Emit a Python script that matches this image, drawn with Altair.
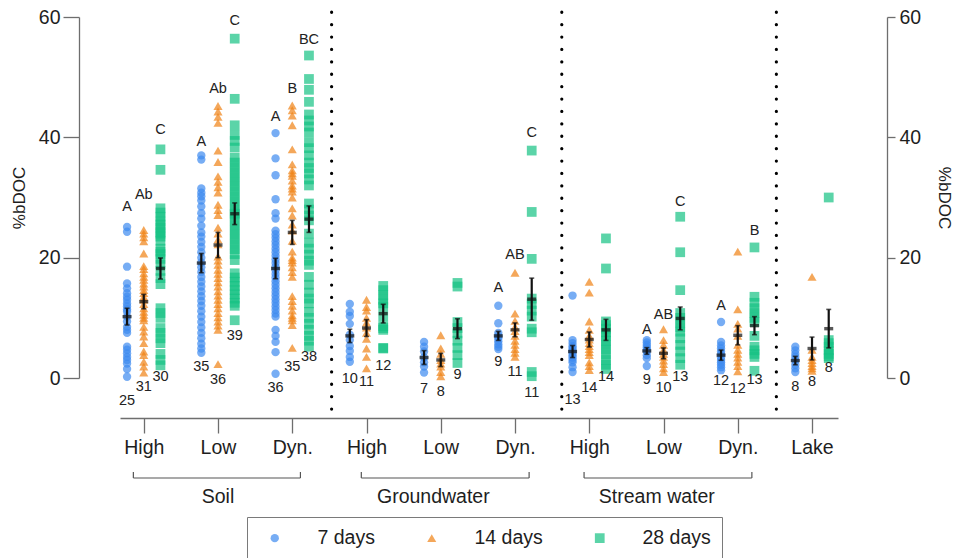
import json
import altair as alt
import pandas as pd

FONT = "Liberation Sans"

# ---------------- data ----------------
groups = ["High", "Low", "Dyn.", "High", "Low", "Dyn.", "High", "Low", "Dyn.", "Lake"]
series = ["7 days", "14 days", "28 days"]
colors = ["#3d8af0", "#f08214", "#16c283"]
shapes = ["circle", "triangle-up", "square"]
marker_sizes = [70, 95, 70]

# Soil
soil_high_7 = [25.1, 24.3, 18.5, 15.7, 14.9, 14.1, 13.5, 13.0, 12.4, 11.9, 11.4, 11.0, 10.2, 9.4, 8.5, 8.0, 7.5, 5.2, 4.7, 4.1, 3.5, 3.0, 2.4, 1.5, 0.2]
soil_high_14 = [24.6, 24.0, 23.4, 22.7, 20.7, 18.6, 18.1, 17.4, 16.8, 16.3, 15.7, 15.2, 14.6, 14.1, 13.5, 13.0, 12.3, 11.6, 11.0, 10.5, 10.0, 9.6, 8.5, 7.7, 6.9, 5.8, 4.4, 3.8, 2.7, 1.9, 0.9]
soil_high_28 = [38.0, 34.6, 28.2, 27.5, 26.8, 26.0, 25.5, 25.0, 24.3, 24.0, 23.5, 22.8, 21.5, 21.0, 20.6, 19.8, 18.9, 17.8, 16.6, 15.6, 11.6, 10.8, 10.0, 8.3, 7.5, 6.6, 5.8, 4.0, 3.0, 2.1]
soil_low_7 = [37.0, 36.3, 31.5, 30.8, 30.2, 29.5, 28.5, 27.4, 26.5, 25.3, 24.2, 23.5, 22.6, 21.8, 20.9, 20.0, 19.2, 18.4, 17.6, 16.8, 16.0, 15.2, 14.4, 13.6, 12.8, 12.0, 11.1, 10.2, 9.3, 8.4, 7.5, 6.6, 5.7, 4.9, 4.2]
soil_low_14 = [45.2, 44.3, 43.4, 42.4, 37.8, 35.9, 33.5, 32.6, 31.7, 30.8, 28.8, 27.9, 27.1, 25.0, 24.0, 23.0, 22.2, 20.2, 19.5, 18.8, 18.0, 17.3, 16.6, 15.9, 15.2, 14.4, 13.7, 13.0, 12.3, 11.6, 10.8, 10.1, 9.4, 8.7, 8.0, 2.3]
soil_low_28 = [56.4, 46.4, 42.0, 40.4, 39.4, 38.3, 36.6, 35.8, 35.0, 34.2, 33.4, 32.6, 31.8, 31.0, 30.2, 29.4, 28.6, 27.8, 27.3, 27.0, 26.2, 25.4, 24.6, 23.8, 23.0, 22.2, 21.4, 20.6, 19.6, 17.4, 16.7, 16.0, 15.3, 14.6, 13.9, 13.2, 12.5, 12.0, 9.6]
soil_dyn_7 = [40.7, 36.5, 33.7, 29.7, 27.4, 26.5, 24.5, 23.9, 23.3, 22.7, 22.1, 21.5, 20.9, 20.3, 19.7, 19.1, 18.5, 17.9, 17.3, 16.7, 16.1, 15.5, 14.9, 14.3, 13.7, 13.1, 12.5, 11.9, 11.3, 10.7, 10.2, 8.0, 7.0, 6.0, 4.3, 0.7]
soil_dyn_14 = [45.3, 44.5, 43.6, 42.0, 38.0, 35.5, 34.5, 34.0, 33.6, 32.8, 32.0, 31.5, 31.0, 30.0, 28.2, 27.0, 25.5, 24.5, 22.8, 21.0, 20.0, 19.6, 19.2, 18.4, 17.6, 16.8, 13.6, 12.8, 12.0, 11.2, 10.4, 10.0, 9.6, 8.8, 5.0]
soil_dyn_28 = [53.6, 49.7, 47.9, 45.9, 43.8, 42.8, 41.8, 40.8, 39.2, 38.2, 37.0, 35.8, 34.9, 34.0, 33.0, 32.0, 29.0, 28.0, 27.0, 26.2, 24.0, 22.5, 21.5, 20.5, 19.5, 18.8, 16.8, 15.5, 14.2, 13.2, 12.4, 11.0, 10.0, 9.0, 8.0, 7.0, 6.2, 5.2]
# Groundwater
gw_high_7 = [12.3, 11.0, 10.3, 9.0, 7.2, 6.3, 5.3, 4.5, 3.5, 2.7]
gw_high_14 = [13.0, 11.8, 11.2, 10.0, 9.2, 8.4, 7.5, 6.5, 4.9, 3.5, 1.6]
gw_high_28 = [15.3, 14.6, 13.8, 13.0, 12.4, 11.8, 10.2, 8.6, 8.3, 8.0, 5.0, 4.9]
gw_low_7 = [6.0, 5.2, 4.4, 3.4, 2.6, 1.9, 0.9]
gw_low_14 = [7.1, 4.9, 4.0, 3.0, 2.4, 1.9, 1.0, 0.3]
gw_low_28 = [15.8, 15.2, 9.3, 8.3, 7.4, 6.2, 5.0, 3.8, 2.5]
gw_dyn_7 = [12.0, 9.1, 7.5, 7.0, 6.6, 6.1, 5.6, 5.2, 4.8]
gw_dyn_14 = [17.5, 10.7, 9.5, 8.5, 7.8, 7.0, 6.2, 5.5, 4.8, 4.2, 3.5]
gw_dyn_28 = [37.8, 27.6, 19.8, 13.2, 12.3, 11.2, 10.2, 8.2, 7.6, 1.0, 0.3]
# Stream water
st_high_7 = [13.7, 6.3, 5.8, 5.3, 5.0, 4.6, 4.2, 3.8, 3.4, 3.0, 2.6, 1.8, 1.0]
st_high_14 = [16.0, 14.2, 9.4, 8.0, 7.0, 6.4, 5.8, 5.3, 4.8, 4.3, 3.8, 2.6, 2.0, 1.3]
st_high_28 = [23.2, 18.2, 9.4, 8.8, 8.2, 7.6, 7.0, 6.2, 5.5, 4.7, 3.9, 3.0, 2.2, 1.5]
st_low_7 = [6.3, 5.9, 5.5, 5.1, 4.7, 4.4, 3.8, 3.3, 2.0]
st_low_14 = [8.1, 6.3, 5.5, 4.7, 4.0, 3.5, 2.9, 2.3, 1.6, 1.0]
st_low_28 = [26.8, 20.9, 14.6, 10.8, 10.0, 9.2, 8.4, 7.7, 6.6, 5.5, 4.4, 3.3, 2.2]
st_dyn_7 = [9.3, 6.0, 5.4, 4.9, 4.4, 3.9, 3.4, 3.0, 2.6, 2.2, 1.8, 1.3]
st_dyn_14 = [21.0, 11.4, 9.0, 8.2, 7.0, 5.5, 4.7, 4.0, 3.4, 2.7, 2.0, 1.1]
st_dyn_28 = [21.7, 13.5, 12.5, 11.6, 10.8, 10.0, 9.3, 7.0, 5.2, 4.6, 4.0, 3.5, 1.2]
# Lake
lake_7 = [5.2, 4.6, 4.0, 3.5, 2.9, 2.2, 1.6, 1.0]
lake_14 = [16.8, 4.7, 3.5, 3.0, 2.5, 2.0, 1.6, 1.2]
lake_28 = [30.0, 6.3, 5.8, 5.2, 4.6, 4.0, 3.6, 3.3]

points_7 = [soil_high_7, soil_low_7, soil_dyn_7, gw_high_7, gw_low_7, gw_dyn_7, st_high_7, st_low_7, st_dyn_7, lake_7]
points_14 = [soil_high_14, soil_low_14, soil_dyn_14, gw_high_14, gw_low_14, gw_dyn_14, st_high_14, st_low_14, st_dyn_14, lake_14]
points_28 = [soil_high_28, soil_low_28, soil_dyn_28, gw_high_28, gw_low_28, gw_dyn_28, st_high_28, st_low_28, st_dyn_28, lake_28]

# means and standard errors
mean_7 = [10.2, 19.1, 18.2, 7.0, 3.4, 7.0, 4.4, 4.5, 3.8, 2.9]
se_7 = [1.4, 1.6, 1.7, 1.1, 1.15, 0.75, 1.0, 0.55, 0.85, 0.7]
mean_14 = [12.7, 22.1, 24.2, 8.3, 3.0, 8.0, 6.4, 4.1, 7.1, 4.9]
se_14 = [1.2, 2.1, 2.0, 1.4, 1.1, 1.15, 1.25, 0.9, 1.6, 1.9]
mean_28 = [18.2, 27.3, 26.4, 10.7, 8.2, 13.1, 8.0, 9.9, 8.7, 8.2]
se_28 = [1.75, 1.8, 2.2, 1.55, 1.65, 3.5, 1.75, 1.9, 1.5, 3.2]

# significance letters and the value at which each is written
letters_7 = ["A", "A", "A", "", "", "A", "", "A", "A", ""]
letters_14 = ["Ab", "Ab", "B", "", "", "AB", "", "AB", "", ""]
letters_28 = ["C", "C", "BC", "", "", "C", "", "C", "B", ""]
letter_at_7 = [28.5, 39.3, 43.3, 0, 0, 14.9, 0, 8.0, 12.0, 0]
letter_at_14 = [30.4, 48.0, 48.0, 0, 0, 20.4, 0, 10.4, 0, 0]
letter_at_28 = [41.2, 59.4, 56.2, 0, 0, 40.8, 0, 29.2, 24.4, 0]

# value at which each sample count is written
count_at_7 = [-3.8, 1.8, -1.7, -0.2, -1.9, 2.6, -3.7, -0.3, -0.5, -1.55]
count_at_14 = [-1.55, -0.3, 1.8, -0.6, -2.3, 1.05, -1.6, -1.7, -1.9, -0.6]
count_at_28 = [0.2, 7.0, 3.5, 2.0, 0.5, -2.5, 0.2, 0.2, -0.3, 1.6]

# sections
section_names = ["Soil", "Groundwater", "Stream water"]
section_start = [-0.14, 2.93, 5.93]
section_end = [2.11, 5.19, 8.19]
section_label_at = [1.0, 3.9, 6.91]
separators = [2.53, 5.63, 8.52]

OFFSET = 0.225

# ---------------- tables ----------------
pt_rows, sm_rows = [], []
all_pts = [points_7, points_14, points_28]
all_mean = [mean_7, mean_14, mean_28]
all_se = [se_7, se_14, se_28]
all_let = [letters_7, letters_14, letters_28]
all_let_at = [letter_at_7, letter_at_14, letter_at_28]
all_cnt_at = [count_at_7, count_at_14, count_at_28]
for si, s in enumerate(series):
    for gi in range(len(groups)):
        xpos = gi + (si - 1) * OFFSET
        vals = all_pts[si][gi]
        for v in vals:
            pt_rows.append({"x": xpos, "v": v, "s": s})
        m, e = all_mean[si][gi], all_se[si][gi]
        sm_rows.append({"x": xpos, "s": s, "mean": m, "lo": m - e, "hi": m + e,
                        "n": str(len(vals)), "n_at": all_cnt_at[si][gi],
                        "letter": all_let[si][gi], "letter_at": all_let_at[si][gi]})
pts = pd.DataFrame(pt_rows)
summ = pd.DataFrame(sm_rows)
lets = summ[summ["letter"] != ""]
seps = pd.DataFrame({"x": separators, "top": [60.8] * 3, "bottom": [-5.65] * 3})
secs = pd.DataFrame({"x": section_start, "x2": section_end, "xc": section_label_at, "name": section_names})
axis_ticks = pd.DataFrame({"x": list(range(len(groups))), "x_top": list(range(len(groups))),
                           "zero": [0] * len(groups)})

# ---------------- scales / axes ----------------
xscale = alt.Scale(domain=[-0.32, 9.35], nice=False, zero=False)
yscale = alt.Scale(domain=[0, 60], nice=False, zero=False)
label_expr = json.dumps(groups) + "[datum.value]"
xaxis = alt.Axis(values=list(range(len(groups))), labelExpr=label_expr, offset=40, tickSize=15,
                 labelPadding=5, labelFontSize=19.5, labelFlush=False, labelOverlap=False, title=None,
                 orient="bottom", labelFont=FONT)
xaxis_top = alt.Axis(orient="top", domain=False, ticks=False, labels=False, title=None, grid=False)
ax_common = dict(values=[0, 20, 40, 60], labelFontSize=19.5, title="%bDOC", titleFontSize=17,
                 titleFontWeight="normal", labelFont=FONT, titleFont=FONT)
yaxis_left = alt.Axis(orient="left", offset=41, tickSize=16, labelPadding=3, titlePadding=10, **ax_common)
yaxis_right = alt.Axis(orient="right", offset=49, tickSize=8, labelPadding=4, titlePadding=14, **ax_common)

Xn = alt.X("x:Q", scale=xscale, axis=None)

legend = alt.Legend(title=None, orient="none", legendX=127, legendY=500, direction="horizontal",
                    strokeColor="#7a7a7a", padding=11, labelFontSize=19.5, labelFont=FONT,
                    labelColor="#1e1e1e", symbolSize=45, symbolOffset=7, labelOffset=33,
                    columnPadding=40, symbolStrokeWidth=0, symbolOpacity=0.7)

points = alt.Chart(pts).mark_point(filled=True, opacity=0.7, strokeWidth=0).encode(
    x=Xn,
    y=alt.Y("v:Q", scale=yscale, axis=yaxis_left),
    color=alt.Color("s:N", scale=alt.Scale(domain=series, range=colors), sort=series, legend=legend),
    shape=alt.Shape("s:N", scale=alt.Scale(domain=series, range=shapes), sort=series, legend=legend),
    size=alt.Size("s:N", scale=alt.Scale(domain=series, range=marker_sizes), legend=None),
)

# invisible layers that carry the category axis (bottom) and an empty top axis
axis_bottom = alt.Chart(axis_ticks).mark_tick(opacity=0).encode(
    x=alt.X("x:Q", scale=xscale, axis=xaxis),
    y=alt.Y("zero:Q", scale=yscale, axis=None),
)
axis_top = alt.Chart(axis_ticks).mark_tick(opacity=0).encode(
    x=alt.X("x_top:Q", scale=xscale, axis=xaxis_top),
    y=alt.Y("zero:Q", scale=yscale, axis=None),
)

err = alt.Chart(summ).mark_rule(color="#111111", strokeWidth=2.2).encode(
    x=Xn, y=alt.Y("lo:Q", scale=yscale, axis=None), y2="hi:Q")
cap_lo = alt.Chart(summ).mark_tick(color="#111111", size=5, thickness=1.6, orient="horizontal").encode(
    x=Xn, y=alt.Y("lo:Q", scale=yscale, axis=None))
cap_hi = alt.Chart(summ).mark_tick(color="#111111", size=5, thickness=1.6, orient="horizontal").encode(
    x=Xn, y=alt.Y("hi:Q", scale=yscale, axis=None))
mean_tick = alt.Chart(summ).mark_tick(color="#111111", size=9, thickness=3.4, orient="horizontal").encode(
    x=Xn, y=alt.Y("mean:Q", scale=yscale, axis=yaxis_right))

letter_txt = alt.Chart(lets).mark_text(font=FONT, fontSize=14.5, color="#222222", baseline="middle").encode(
    x=Xn, y=alt.Y("letter_at:Q", scale=yscale, axis=None), text="letter:N")
count_txt = alt.Chart(summ).mark_text(font=FONT, fontSize=14.5, color="#222222", baseline="middle").encode(
    x=Xn, y=alt.Y("n_at:Q", scale=yscale, axis=None), text="n:N")

sep_rules = alt.Chart(seps).mark_rule(color="#000000", strokeWidth=3.2, strokeCap="round",
                                      strokeDash=[0.1, 12.3]).encode(
    x=Xn, y=alt.Y("top:Q", scale=yscale, axis=None), y2="bottom:Q")

bracket = alt.Chart(secs).mark_rule(color="#555555", strokeWidth=1.2).encode(
    x=Xn, x2="x2:Q", y=alt.value(461))
bracket_l = alt.Chart(secs).mark_rule(color="#555555", strokeWidth=1.2).encode(
    x=Xn, y=alt.value(455), y2=alt.value(461))
bracket_r = alt.Chart(secs).mark_rule(color="#555555", strokeWidth=1.2).encode(
    x=alt.X("x2:Q", scale=xscale, axis=None), y=alt.value(455), y2=alt.value(461))
sec_txt = alt.Chart(secs).mark_text(font=FONT, fontSize=19.5, color="#1e1e1e", baseline="middle").encode(
    x=alt.X("xc:Q", scale=xscale, axis=None), y=alt.value(480), text="name:N")

chart = alt.layer(
    points, axis_bottom, axis_top, sep_rules, err, cap_lo, cap_hi, mean_tick, letter_txt, count_txt,
    bracket, bracket_l, bracket_r, sec_txt,
).resolve_axis(y="independent").properties(
    width=718, height=361,
    padding={"left": 120, "top": 17, "right": 123, "bottom": 180},
    autosize=alt.AutoSizeParams(type="none"),
).configure_view(stroke=None).configure_axis(
    grid=False, domainColor="#6e6e6e", tickColor="#6e6e6e", domainWidth=1.3, tickWidth=1.3,
    labelColor="#1e1e1e", titleColor="#1e1e1e",
)

chart.save("out.html", embed_options={"renderer": "svg", "actions": False})
